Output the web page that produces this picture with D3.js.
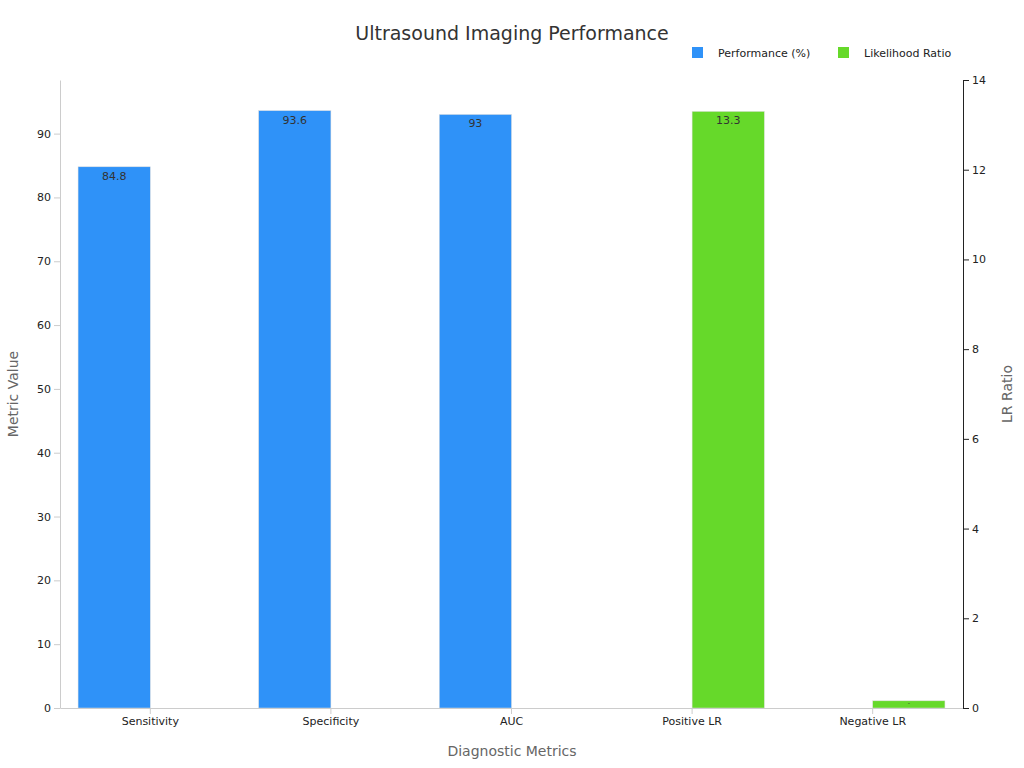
<!DOCTYPE html><html><head><meta charset="utf-8"><script src="https://cdn.jsdelivr.net/npm/d3@7"></script>
<style>body{margin:0;background:#fff}text{font-family:"DejaVu Sans",sans-serif}</style></head><body><svg id="c" width="1024" height="768"></svg>
<script>
const categories=["Sensitivity","Specificity","AUC","Positive LR","Negative LR"];
const performance=[84.8,93.6,93,null,null];
const likelihood=[null,null,null,13.3,0.16];
const leftTicks=[0,10,20,30,40,50,60,70,80,90];
const rightTicks=[0,2,4,6,8,10,12,14];
const svg=d3.select("#c");
const L=60,R=963,T=80,B=708;
const x=d3.scaleBand().domain(categories).range([L,R]).paddingInner(0.2).paddingOuter(0.1);
const y=d3.scaleLinear().domain([0,98.4]).range([B,T]);
const y2=d3.scaleLinear().domain([0,14]).range([B,T]);
const blue="#2f92f8",green="#66d92a";
const g=svg.append("g");
categories.forEach((c,i)=>{
 const cx=x(c)+x.bandwidth()/2,w=x.bandwidth()/2;
 if(performance[i]!=null){
  g.append("rect").attr("x",cx-w).attr("y",y(performance[i])).attr("width",w).attr("height",B-y(performance[i])).attr("fill",blue).attr("stroke","#ddd").attr("stroke-width",0.5);
  g.append("text").attr("x",cx-w/2).attr("y",y(performance[i])+13).attr("text-anchor","middle").attr("font-size",11).attr("fill","#333").text(performance[i]);
 }
 if(likelihood[i]!=null){
  g.append("rect").attr("x",cx).attr("y",y2(likelihood[i])).attr("width",w).attr("height",B-y2(likelihood[i])).attr("fill",green).attr("stroke","#ddd").attr("stroke-width",0.5);
  if(likelihood[i]>1) g.append("text").attr("x",cx+w/2).attr("y",y2(likelihood[i])+13).attr("text-anchor","middle").attr("font-size",11).attr("fill","#333").text(likelihood[i]);
  else g.append("text").attr("x",cx+w/2).attr("y",y2(likelihood[i])+4).attr("text-anchor","middle").attr("font-size",6).attr("fill","#333").text("-");
 }
});
const ax=svg.append("g").attr("transform",`translate(0,${B})`).call(d3.axisBottom(x).tickSizeOuter(0));
const al=svg.append("g").attr("transform",`translate(${L},0)`).call(d3.axisLeft(y).tickValues(leftTicks).tickSizeOuter(0));
const ar=svg.append("g").attr("transform",`translate(${R},0)`).call(d3.axisRight(y2).tickValues(rightTicks).tickSizeOuter(0));
[ax,al].forEach(a=>{a.selectAll(".domain,line").attr("stroke","#ccc");a.selectAll("text").attr("font-size",11).attr("fill","#222").style("font-family","DejaVu Sans")});
ar.selectAll(".domain,line").attr("stroke","#222");ar.selectAll("text").attr("font-size",11).attr("fill","#222").style("font-family","DejaVu Sans");
svg.append("text").attr("x",512).attr("y",40).attr("text-anchor","middle").attr("font-size",19).attr("fill","#333").text("Ultrasound Imaging Performance");
svg.append("text").attr("x",512).attr("y",756).attr("text-anchor","middle").attr("font-size",14).attr("fill","#666").text("Diagnostic Metrics");
svg.append("text").attr("transform","translate(18,394) rotate(-90)").attr("text-anchor","middle").attr("font-size",14).attr("fill","#666").text("Metric Value");
svg.append("text").attr("transform","translate(1012,394) rotate(-90)").attr("text-anchor","middle").attr("font-size",14).attr("fill","#666").text("LR Ratio");
[["Performance (%)",blue,692],["Likelihood Ratio",green,838]].forEach(([t,c,lx])=>{
 svg.append("rect").attr("x",lx).attr("y",47).attr("width",11).attr("height",11).attr("fill",c);
 svg.append("text").attr("x",lx+26).attr("y",57).attr("font-size",11).attr("fill","#222").text(t);
});
</script></body></html>
